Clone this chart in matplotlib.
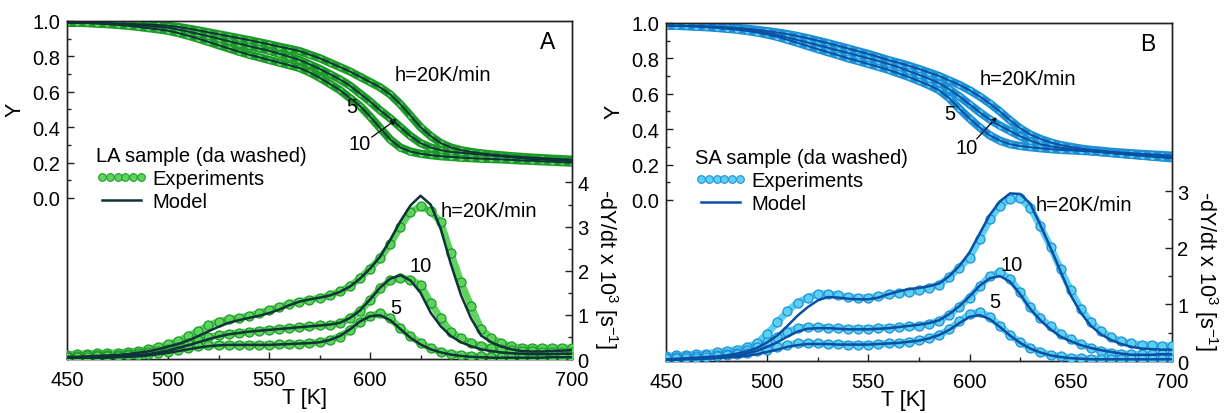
import numpy as np
import matplotlib.pyplot as plt
from matplotlib.lines import Line2D

plt.rcParams['font.family'] = ['Liberation Sans', 'DejaVu Sans']
plt.rcParams['mathtext.default'] = 'regular'

# temperatura [K], um ponto a cada 5 K
T = list(range(450, 701, 5))

# --- Painel A (LA sample) : Y ---
Y_A_20 = [.990, .990, .990, .990, .988, .986, .984, .982, .980, .977,
          .973, .966, .957, .947, .936, .925, .914, .903, .892, .880,
          .868, .855, .843, .830, .810, .790, .765, .740, .715, .685,
          .655, .625, .585, .530, .465, .400, .350, .310, .285, .270,
          .260, .252, .246, .241, .236, .232, .228, .225, .222, .219,
          .216]
Y_A_10 = [.990, .990, .990, .988, .986, .983, .980, .976, .972, .967,
          .962, .952, .940, .927, .914, .900, .886, .872, .858, .845,
          .832, .815, .798, .780, .755, .730, .700, .670, .635, .590,
          .545, .495, .450, .400, .350, .310, .285, .270, .260, .255,
          .250, .245, .240, .235, .230, .225, .220, .217, .214, .212,
          .210]
Y_A_5 = [.990, .990, .988, .985, .982, .978, .973, .967, .960, .953,
         .945, .932, .917, .900, .882, .863, .845, .827, .810, .795,
         .780, .765, .750, .735, .710, .680, .645, .610, .565, .520,
         .460, .395, .330, .285, .262, .250, .242, .236, .232, .228,
         .225, .222, .220, .218, .215, .212, .210, .207, .205, .202,
         .200]

# --- Painel A : -dY/dt x 10^3 (experimentos e modelo) ---
dY_A_20_exp = [.10, .11, .12, .13, .135, .14, .16, .18, .22, .27,
               .33, .41, .52, .64, .76, .85, .90, .93, .98, 1.04,
               1.11, 1.18, 1.25, 1.30, 1.34, 1.38, 1.44, 1.53, 1.65, 1.83,
               2.05, 2.28, 2.60, 3.00, 3.33, 3.46, 3.35, 3.10, 2.40, 1.75,
               1.20, .68, .48, .36, .29, .25, .25, .25, .25, .25,
               .25]
dY_A_20_mod = [.05, .05, .06, .07, .08, .09, .11, .14, .17, .22,
               .28, .34, .42, .52, .63, .73, .82, .88, .93, .98,
               1.04, 1.12, 1.22, 1.30, 1.35, 1.39, 1.44, 1.52, 1.64, 1.82,
               2.05, 2.32, 2.70, 3.12, 3.48, 3.70, 3.50, 2.95, 2.15, 1.45,
               .92, .53, .38, .28, .22, .18, .17, .17, .18, .19,
               .20]
dY_A_10_exp = [.07, .07, .08, .08, .09, .10, .11, .13, .15, .18,
               .22, .28, .36, .44, .50, .54, .57, .59, .62, .64,
               .66, .68, .70, .72, .74, .76, .77, .81, .92, 1.08,
               1.33, 1.60, 1.78, 1.84, 1.80, 1.68, 1.28, .92, .62, .47,
               .37, .30, .25, .22, .20, .19, .18, .17, .17, .17,
               .17]
dY_A_10_mod = [.03, .03, .04, .04, .05, .06, .07, .09, .11, .15,
               .19, .25, .31, .38, .45, .51, .56, .59, .62, .64,
               .66, .68, .70, .72, .74, .76, .78, .82, .93, 1.10,
               1.35, 1.62, 1.82, 1.90, 1.78, 1.50, 1.05, .74, .52, .38,
               .29, .22, .18, .15, .13, .12, .11, .11, .11, .12,
               .12]
dY_A_5_exp = [.05, .05, .05, .06, .06, .07, .08, .09, .11, .14,
              .17, .21, .25, .29, .31, .32, .32, .32, .32, .32,
              .32, .33, .34, .35, .36, .38, .43, .51, .65, .85,
              .97, 1.04, .92, .70, .52, .36, .25, .16, .12, .09,
              .07, .06, .05, .05, .05, .05, .05, .05, .05, .05,
              .05]
dY_A_5_mod = [.02, .02, .02, .03, .03, .04, .05, .06, .08, .11,
              .14, .18, .22, .26, .29, .31, .32, .32, .32, .32,
              .32, .33, .34, .35, .36, .38, .43, .52, .67, .85,
              .97, .99, .88, .68, .48, .33, .22, .15, .10, .07,
              .05, .04, .03, .03, .03, .03, .03, .03, .04, .04,
              .04]

# --- Painel B (SA sample) : Y ---
Y_B_20 = [.985, .985, .984, .983, .981, .979, .976, .972, .967, .961,
          .954, .946, .937, .926, .914, .900, .886, .871, .856, .840,
          .825, .808, .790, .775, .758, .740, .720, .700, .675, .650,
          .620, .585, .545, .500, .450, .405, .370, .345, .325, .310,
          .300, .290, .283, .278, .272, .268, .264, .260, .257, .254,
          .250]
Y_B_10 = [.985, .984, .983, .981, .979, .976, .972, .967, .961, .953,
          .944, .932, .918, .904, .890, .875, .860, .845, .830, .815,
          .800, .785, .768, .750, .728, .707, .685, .660, .625, .585,
          .540, .495, .455, .420, .390, .360, .335, .315, .303, .295,
          .288, .282, .276, .270, .265, .260, .255, .251, .247, .243,
          .240]
Y_B_5 = [.985, .984, .982, .979, .976, .972, .967, .962, .955, .946,
         .935, .922, .905, .888, .870, .852, .835, .818, .800, .785,
         .768, .752, .735, .715, .695, .672, .648, .620, .575, .515,
         .460, .410, .365, .335, .315, .305, .298, .292, .287, .283,
         .280, .277, .274, .270, .265, .260, .255, .250, .245, .240,
         .235]

# --- Painel B : -dY/dt x 10^3 ---
dY_B_20_exp = [.08, .10, .11, .12, .13, .16, .18, .20, .24, .32,
               .48, .68, .88, 1.03, 1.12, 1.18, 1.19, 1.16, 1.13, 1.12,
               1.12, 1.14, 1.18, 1.20, 1.22, 1.25, 1.29, 1.35, 1.48, 1.65,
               1.82, 2.15, 2.50, 2.74, 2.86, 2.87, 2.70, 2.38, 2.02, 1.62,
               1.25, .92, .68, .53, .42, .35, .31, .29, .28, .27,
               .27]
dY_B_20_mod = [.03, .04, .05, .06, .07, .08, .10, .13, .17, .23,
               .33, .45, .62, .80, .95, 1.07, 1.13, 1.12, 1.10, 1.09,
               1.09, 1.12, 1.18, 1.23, 1.27, 1.29, 1.32, 1.37, 1.50, 1.68,
               1.92, 2.25, 2.58, 2.82, 2.96, 2.95, 2.78, 2.40, 2.00, 1.58,
               1.16, .85, .62, .47, .37, .30, .25, .22, .21, .20,
               .20]
dY_B_10_exp = [.06, .07, .08, .09, .10, .11, .13, .15, .19, .24,
               .33, .43, .52, .58, .60, .60, .59, .58, .57, .57,
               .57, .58, .59, .60, .61, .62, .66, .71, .82, .96,
               1.12, 1.32, 1.50, 1.57, 1.45, 1.22, .95, .76, .61, .48,
               .38, .30, .23, .18, .15, .13, .12, .12, .12, .12,
               .12]
dY_B_10_mod = [.03, .03, .04, .05, .05, .06, .08, .10, .13, .18,
               .25, .33, .43, .52, .57, .58, .58, .57, .56, .56,
               .56, .57, .58, .60, .62, .64, .67, .72, .83, .97,
               1.14, 1.33, 1.46, 1.50, 1.40, 1.18, .92, .72, .56, .43,
               .35, .28, .23, .19, .16, .13, .11, .11, .11, .12,
               .12]
dY_B_5_exp = [.05, .05, .06, .06, .07, .08, .10, .12, .14, .17,
              .20, .25, .29, .31, .31, .31, .30, .30, .29, .29,
              .29, .30, .31, .32, .34, .37, .40, .46, .56, .70,
              .83, .87, .78, .62, .46, .33, .23, .16, .11, .08,
              .06, .05, .04, .04, .04, .04, .04, .04, .04, .04,
              .04]
dY_B_5_mod = [.02, .02, .03, .03, .04, .05, .06, .07, .09, .12,
              .16, .20, .25, .28, .30, .30, .30, .29, .29, .29,
              .29, .30, .31, .32, .34, .36, .40, .46, .55, .67,
              .78, .81, .74, .60, .45, .32, .22, .15, .10, .07,
              .05, .04, .03, .03, .03, .03, .03, .03, .03, .03,
              .03]

FS = 14.5
SPINE = '#222222'

fig = plt.figure(figsize=(12.26, 4.14), dpi=100)


def painel(rect, Ys, dYe, dYm, c_face, c_edge, c_mod, dtop, dticks,
           letra, amostra, notas):
    ax = fig.add_axes(rect)
    ax2 = ax.twinx()

    # curvas Y (eixo esquerdo)
    for y in Ys:
        ax.plot(T, y, '-', color=c_edge, lw=6, solid_capstyle='butt', zorder=2)
        ax.plot(T, y, 'o', ms=4.2, mfc=c_face, mec=c_edge, mew=0.6, zorder=3)
        ax.plot(T, y, '-', color=c_mod, lw=1.4, zorder=4)

    # curvas -dY/dt (eixo direito)
    for e, m in zip(dYe, dYm):
        ax2.plot(T, e, '-', color=c_face, lw=5, zorder=2)
        ax2.plot(T, e, 'o', ms=6.5, mfc=c_face, mec=c_edge, mew=0.9, zorder=3)
        ax2.plot(T, m, '-', color=c_mod, lw=1.8, zorder=4)

    ax.set_xlim(450, 700)
    ax.set_xticks(range(450, 701, 50))
    ax.set_xticks(range(475, 700, 50), minor=True)
    ax.set_ylim(-0.91, 1.0)
    ax.set_yticks(np.arange(0, 1.01, 0.2))
    ax.set_yticks(np.arange(0.1, 1.0, 0.2), minor=True)
    ax.set_yticklabels(['%.1f' % v for v in np.arange(0, 1.01, 0.2)])
    ax.tick_params(which='both', direction='in', top=False, right=False,
                   labelsize=FS, color=SPINE)
    ax.tick_params(which='major', length=5, width=1)
    ax.tick_params(which='minor', length=3, width=1)
    ax.tick_params(axis='x', pad=8)
    ax.tick_params(axis='y', pad=5)

    ax2.set_ylim(0, dtop)
    ax2.set_yticks(dticks)
    ax2.set_yticks(np.arange(0.5, dticks[-1] + 0.01, 1.0), minor=True)
    ax2.tick_params(which='both', direction='in', labelsize=FS, color=SPINE, pad=4)
    ax2.tick_params(which='major', length=5, width=1)
    ax2.tick_params(which='minor', length=3, width=1)

    for a in (ax, ax2):
        for s in a.spines.values():
            s.set_color(SPINE)
            s.set_linewidth(1.0)

    # rótulos dos eixos
    ax.text(-0.103, 0.74, 'Y', transform=ax.transAxes, rotation=90,
            ha='center', va='center', fontsize=FS + 1)
    ax.text(0.47, -0.115, 'T [K]', transform=ax.transAxes,
            ha='center', va='center', fontsize=FS + 1)
    ax.text(1.068, 0.27, '-dY/dt x 10$^3$ [s$^{-1}$]', transform=ax.transAxes,
            rotation=270, ha='center', va='center', fontsize=FS + 1)
    ax.text(0.952, 0.938, letra, transform=ax.transAxes,
            ha='center', va='center', fontsize=FS + 2)

    # anotações das taxas de aquecimento
    (h_top, n5, n10, seta_de, seta_para, h_bot, d10, d5) = notas
    ax.text(*h_top, 'h=20K/min', ha='center', va='center', fontsize=FS)
    ax.text(*n5, '5', ha='center', va='center', fontsize=FS)
    ax.text(*n10, '10', ha='center', va='center', fontsize=FS)
    ax.annotate('', xy=seta_para, xytext=seta_de,
                arrowprops=dict(arrowstyle='-|>', color='black', lw=0.9,
                                mutation_scale=8, shrinkA=0, shrinkB=0))
    ax2.text(*h_bot, 'h=20K/min', ha='left', va='center', fontsize=FS)
    ax2.text(*d10, '10', ha='center', va='center', fontsize=FS)
    ax2.text(*d5, '5', ha='center', va='center', fontsize=FS)

    # legenda
    hs = [Line2D([], [], ls='none', marker='o', ms=5.5, mfc=c_face,
                 mec=c_edge, mew=0.8),
          Line2D([], [], color=c_mod, lw=1.8)]
    ax2.legend(hs, ['Experiments', 'Model'], title=amostra,
               loc='upper left', bbox_to_anchor=(0.058, 0.63),
               frameon=False, fontsize=FS, title_fontsize=FS,
               numpoints=6, handlelength=2.5, handletextpad=0.3,
               labelspacing=0.2, borderaxespad=0, borderpad=0,
               alignment='left')
    return ax, ax2


painel([0.0547, 0.1304, 0.4119, 0.8165],
       [Y_A_20, Y_A_10, Y_A_5],
       [dY_A_20_exp, dY_A_10_exp, dY_A_5_exp],
       [dY_A_20_mod, dY_A_10_mod, dY_A_5_mod],
       '#5ed35e', '#1e9a2a', '#0f3338', 7.66, [0, 1, 2, 3, 4],
       'A', 'LA sample (da washed)',
       ((636, 0.70), (591, 0.514), (595, 0.305), (600.8, 0.343), (613.2, 0.446),
        (634.7, 3.37), (624.8, 2.12), (612.9, 1.17)))

painel([0.5432, 0.1256, 0.4127, 0.8165],
       [Y_B_20, Y_B_10, Y_B_5],
       [dY_B_20_exp, dY_B_10_exp, dY_B_5_exp],
       [dY_B_20_mod, dY_B_10_mod, dY_B_5_mod],
       '#5cd0f2', '#1f8fd6', '#0b4ea2', 5.97, [0, 1, 2, 3],
       'B', 'SA sample (da washed)',
       ((629, 0.684), (590.3, 0.486), (598.6, 0.298), (603.5, 0.345), (613.4, 0.467),
        (632.8, 2.77), (620.8, 1.70), (612.5, 1.05)))

plt.savefig('out.png', dpi=100)
